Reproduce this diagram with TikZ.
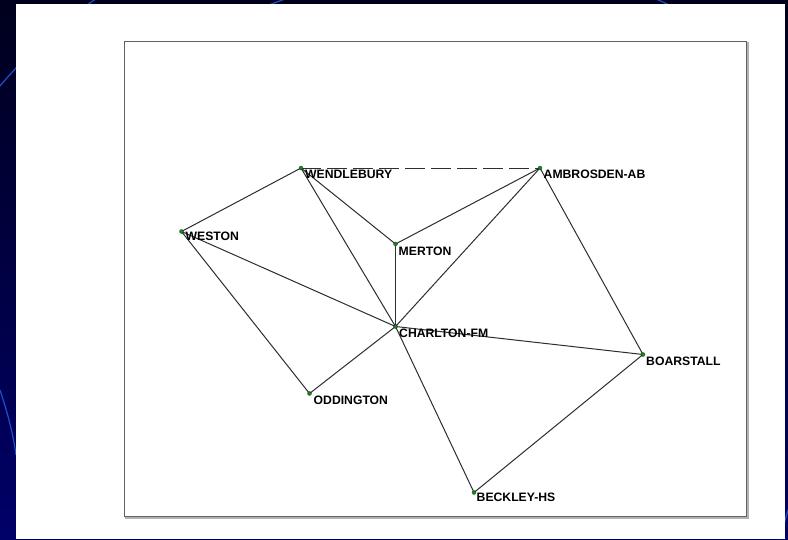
\documentclass[tikz,border=0pt]{standalone}
\usepackage{fontspec}
\setmainfont{Liberation Sans}
\begin{document}
\begin{tikzpicture}[x=1pt,y=-1pt,
  site/.style={circle,inner sep=0pt,minimum size=4pt,fill=green!55!black,draw=black!70,line width=0.4pt},
  sitelabel/.style={anchor=base west,inner sep=0pt,font=\fontsize{12.2}{14}\selectfont\bfseries,text=black},
  link/.style={draw=black!82,line width=1pt},
  planned/.style={link,dash pattern=on 20pt off 6pt}]
\useasboundingbox (0,0) rectangle (788,539);
% slide background
\shade[top color={rgb,255:red,0;green,0;blue,28},bottom color={rgb,255:red,0;green,0;blue,105}] (0,0) rectangle (788,539);
\begin{scope}[draw={rgb,255:red,30;green,80;blue,200},line width=1.2pt]
  \draw (-20,110) .. controls (20,60) and (60,20) .. (110,-10);
  \draw (0,390) .. controls (10,420) and (14,440) .. (16,455);
  \draw (250,12) .. controls (270,4) and (285,0) .. (300,-8);
  \draw (640,-8) .. controls (660,0) and (670,6) .. (690,14);
  \draw (780,539) .. controls (784,525) and (786,515) .. (790,505);
\end{scope}
% white panel and chart frame
\fill[white] (16,4) rectangle (785,539);
\draw[black!30,line width=1.5pt] (126,43) rectangle (748,518);
\draw[black!62,line width=1.3pt,fill=white] (124.5,41.5) rectangle (746.5,516.5);
% sites
\node[site] (wen) at (301,168) {};
\node[site] (amb) at (540,168) {};
\node[site] (wes) at (181.5,231.5) {};
\node[site] (mer) at (395.5,244) {};
\node[site] (cha) at (395.5,326.5) {};
\node[site] (boa) at (643,354.5) {};
\node[site] (odd) at (309.5,393.5) {};
\node[site] (bec) at (474,492.5) {};
% links
\draw[planned] (wen.center) -- (amb.center);
\draw[link] (wen.center) -- (wes.center);
\draw[link] (wen.center) -- (mer.center);
\draw[link] (wen.center) -- (cha.center);
\draw[link] (wes.center) -- (cha.center);
\draw[link] (wes.center) -- (odd.center);
\draw[link] (mer.center) -- (amb.center);
\draw[link] (mer.center) -- (cha.center);
\draw[link] (amb.center) -- (cha.center);
\draw[link] (amb.center) -- (boa.center);
\draw[link] (cha.center) -- (boa.center);
\draw[link] (cha.center) -- (odd.center);
\draw[link] (cha.center) -- (bec.center);
\draw[link] (bec.center) -- (boa.center);
% redraw the dots on top of the links
\foreach \s in {wen,amb,wes,mer,cha,boa,odd,bec}
  \fill[green!60!black] (\s) circle (1.7pt);
% labels
\node[sitelabel] (lwen) at (305,178.5) {WENDLEBURY};
\node[sitelabel] (lamb) at (543.5,178.5) {AMBROSDEN-AB};
\node[sitelabel] (lwes) at (185.5,240.5) {WESTON};
\node[sitelabel] (lmer) at (398.5,255) {MERTON};
\node[sitelabel] (lcha) at (399,337.5) {CHARLTON-FM};
\node[sitelabel] (lboa) at (646,365.5) {BOARSTALL};
\node[sitelabel] (lodd) at (313.5,404.5) {ODDINGTON};
\node[sitelabel] (lbec) at (476.5,501.5) {BECKLEY-HS};
\end{tikzpicture}
\end{document}
